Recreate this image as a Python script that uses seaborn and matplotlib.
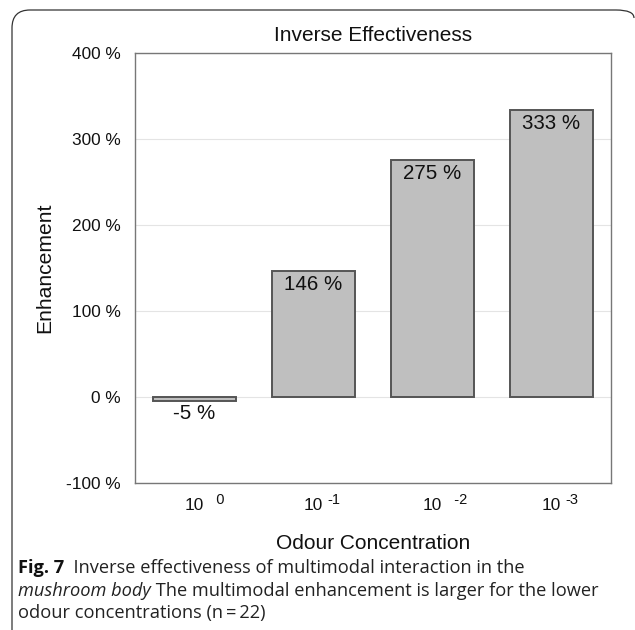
import numpy as np
import pandas as pd
import matplotlib
matplotlib.use("Agg")
import matplotlib.pyplot as plt
import seaborn as sns
from matplotlib.path import Path
from matplotlib.patches import PathPatch

# data
concentrations = ["10^0", "10^-1", "10^-2", "10^-3"]
tick_base = ["10", "10", "10", "10"]
tick_exponents = ["  0", "-1", "  -2", "-3"]
enhancement = [-5, 146, 275, 333]
y_ticks = [-100, 0, 100, 200, 300, 400]

df = pd.DataFrame({"concentration": concentrations, "enhancement": enhancement})

sns.set_theme(style="white")
plt.rcParams["font.family"] = ["Liberation Sans", "DejaVu Sans"]

W, H = 635, 630
fig = plt.figure(figsize=(W / 100, H / 100), dpi=100)
ax = fig.add_axes([135 / W, 1 - 482.7 / H, 476 / W, 430 / H])

sns.barplot(data=df, x="concentration", y="enhancement", color="#bfbfbf",
            saturation=1, edgecolor="#555555", linewidth=1.4, width=0.7, ax=ax)

ax.set_ylim(-100, 400)
ax.set_yticks(y_ticks)
ax.set_yticklabels([f"{v} %" for v in y_ticks])
ax.set_xticks(range(len(tick_base)))
ax.set_xticklabels(tick_base)
ax.tick_params(axis="both", length=0, labelsize=12.4, colors="#111111")
ax.tick_params(axis="y", pad=10)
ax.tick_params(axis="x", pad=11)
ax.yaxis.grid(True, color="#e4e4e4", linewidth=0.8)
ax.set_axisbelow(True)
for s in ax.spines.values():
    s.set_color("#777777")
    s.set_linewidth(1.0)

# superscript exponents next to the "10" tick labels
for i, e in enumerate(tick_exponents):
    ax.annotate(e, (i, 0), xycoords=ax.get_xaxis_transform(), xytext=(13.5, -21),
                textcoords="offset pixels", ha="left", va="baseline",
                fontsize=10.5, color="#111111", annotation_clip=False)

ax.set_title("Inverse Effectiveness", fontsize=15, pad=8.4, color="#111111")
ax.set_xlabel("Odour Concentration", fontsize=15, labelpad=15, color="#111111")
ax.set_ylabel("Enhancement", fontsize=15.2, labelpad=9, color="#111111")

for i, v in enumerate(enhancement):
    ax.annotate(f"{v} %", (i, v), xytext=(0, -2.5), textcoords="offset points",
                ha="center", va="top", fontsize=14.8, color="#111111")

# rounded frame (top and left edge) around the figure panel
r = 18
x0, y0, x1 = 12, 10, 634
verts = [(x0, H), (x0, y0 + r), (x0, y0), (x0 + r, y0), (x1 - r, y0), (x1, y0), (x1, y0 + 8)]
codes = [Path.MOVETO, Path.LINETO, Path.CURVE3, Path.CURVE3, Path.LINETO, Path.CURVE3, Path.CURVE3]
verts = [(x / W, 1 - y / H) for x, y in verts]
fig.patches.append(PathPatch(Path(verts, codes), transform=fig.transFigure,
                             fill=False, edgecolor="#333333", linewidth=0.9))

# caption
cap_font = ["Open Sans", "DejaVu Sans"]
fig.canvas.draw()
renderer = fig.canvas.get_renderer()

# size the caption so the second line spans the same width as in the reference
probe = fig.text(0, 0, "mushroom body The multimodal enhancement is larger for the lower",
                 fontsize=10, family=cap_font)
cap_size = 10 * 590 / probe.get_window_extent(renderer).width
probe.remove()


def run_text(x, y, parts):
    for txt, kw in parts:
        opts = {"fontsize": cap_size, "family": cap_font, "color": "#222222"}
        opts.update(kw)
        t = fig.text(x, y, txt, ha="left", va="baseline", **opts)
        x += t.get_window_extent(renderer).width / W


lx = 18 / W
run_text(lx, 1 - 573 / H, [("Fig. 7", {"fontweight": "bold", "color": "#111111"}),
                           ("  Inverse effectiveness of multimodal interaction in the", {})])
run_text(lx, 1 - 595.5 / H, [("mushroom body", {"style": "italic"}),
                             (" The multimodal enhancement is larger for the lower", {})])
run_text(lx, 1 - 618 / H, [("odour concentrations (n\u2009=\u200922)", {})])

fig.savefig("out.png", dpi=100)
